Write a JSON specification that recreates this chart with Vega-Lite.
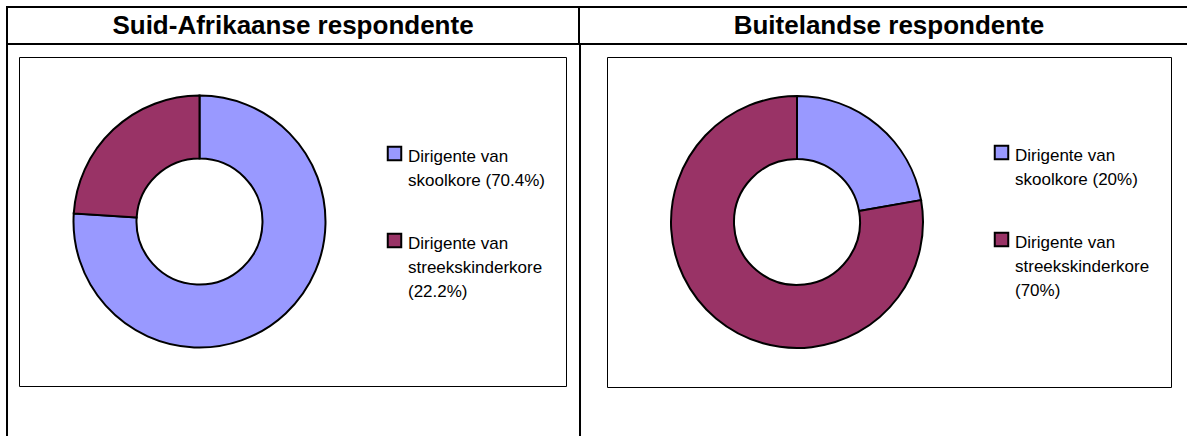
{
  "$schema": "https://vega.github.io/schema/vega-lite/v6.json",
  "padding": {"left": 6, "top": 6, "right": -13, "bottom": -9},
  "background": "white",
  "config": {"view": {"stroke": null}, "font": "Liberation Sans", "concat": {"spacing": 0}},
  "datasets": {
    "headers": [
      {"column": 1, "title": "Suid-Afrikaanse respondente"},
      {"column": 2, "title": "Buitelandse respondente"}
    ],
    "sa": [
      {"category": "Dirigente van|skoolkore (70.4%)", "percent": 70.4, "order": 1},
      {"category": "Dirigente van|streekskinderkore|(22.2%)", "percent": 22.2, "order": 2}
    ],
    "buite": [
      {"category": "Dirigente van|skoolkore (20%)", "percent": 20, "order": 1},
      {"category": "Dirigente van|streekskinderkore|(70%)", "percent": 70, "order": 2}
    ],
    "none": []
  },
  "resolve": {"scale": {"color": "independent"}, "legend": {"color": "independent"}},
  "spacing": 0,
  "bounds": "flush",
  "vconcat": [
    {
      "spacing": 0,
      "bounds": "flush",
      "hconcat": [
        {
          "width": 572, "height": 37,
          "view": {"stroke": "black", "strokeWidth": 2},
          "data": {"name": "headers"},
          "transform": [{"filter": "datum.column == 1"}],
          "mark": {"type": "text", "fontSize": 26, "fontWeight": "bold", "font": "Liberation Sans", "color": "black", "baseline": "middle", "align": "center"},
          "encoding": {"text": {"field": "title", "type": "nominal"}}
        },
        {
          "width": 620, "height": 37,
          "view": {"stroke": "black", "strokeWidth": 2},
          "data": {"name": "headers"},
          "transform": [{"filter": "datum.column == 2"}],
          "mark": {"type": "text", "fontSize": 26, "fontWeight": "bold", "font": "Liberation Sans", "color": "black", "baseline": "middle", "align": "center"},
          "encoding": {"text": {"field": "title", "type": "nominal"}}
        }
      ]
    },
    {"width": 1, "height": 37, "data": {"name": "none"}, "mark": "point"},
    {
      "spacing": 0,
      "bounds": "flush",
      "resolve": {"scale": {"color": "independent"}, "legend": {"color": "independent"}},
      "hconcat": [
        {
          "width": 0.01, "height": 400,
          "view": {"stroke": "black", "strokeWidth": 2},
          "data": {"name": "none"},
          "mark": "point"
        },
        {"width": 11, "height": 1, "data": {"name": "none"}, "mark": "point"},
        {
          "spacing": 0,
          "bounds": "flush",
          "vconcat": [
            {"width": 547, "height": 13, "data": {"name": "none"}, "mark": "point"},
            {
              "width": 547, "height": 329,
              "view": {"stroke": "black", "strokeWidth": 1},
              "data": {"name": "sa"},
              "mark": {"type": "arc", "innerRadius": 63, "outerRadius": 126, "stroke": "black", "strokeWidth": 2, "x": 180.5},
              "encoding": {
                "theta": {"field": "percent", "type": "quantitative", "stack": true},
                "order": {"field": "order", "type": "quantitative"},
                "color": {
                  "field": "category", "type": "nominal",
                  "scale": {"domain": ["Dirigente van|skoolkore (70.4%)", "Dirigente van|streekskinderkore|(22.2%)"], "range": ["#9999FF", "#993366"]},
                  "legend": {
                    "orient": "none", "legendX": 367, "legendY": 101, "title": null, "padding": 0,
                    "symbolType": "square", "symbolSize": 182, "symbolStrokeColor": "black", "symbolStrokeWidth": 2, "symbolOpacity": 1,
                    "labelFont": "Liberation Sans", "labelFontSize": 17, "labelColor": "black",
                    "labelExpr": "split(datum.label, '|')", "labelBaseline": "top", "labelOffset": 5, "labelLimit": 300,
                    "rowPadding": 40,
                    "encode": {"labels": {"update": {"lineHeight": {"value": 24}, "dy": {"value": -5}}}}
                  }
                }
              }
            }
          ]
        },
        {"width": 561, "height": 1, "data": {"name": "none"}, "mark": "point"},
        {
          "width": 0.01, "height": 400,
          "view": {"stroke": "black", "strokeWidth": 2},
          "data": {"name": "none"},
          "mark": "point"
        },
        {"width": 26, "height": 1, "data": {"name": "none"}, "mark": "point"},
        {
          "spacing": 0,
          "bounds": "flush",
          "vconcat": [
            {"width": 564, "height": 13, "data": {"name": "none"}, "mark": "point"},
            {
              "width": 564, "height": 330,
              "view": {"stroke": "black", "strokeWidth": 1},
              "data": {"name": "buite"},
              "mark": {"type": "arc", "innerRadius": 63, "outerRadius": 126, "stroke": "black", "strokeWidth": 2, "x": 190},
              "encoding": {
                "theta": {"field": "percent", "type": "quantitative", "stack": true},
                "order": {"field": "order", "type": "quantitative"},
                "color": {
                  "field": "category", "type": "nominal",
                  "scale": {"domain": ["Dirigente van|skoolkore (20%)", "Dirigente van|streekskinderkore|(70%)"], "range": ["#9999FF", "#993366"]},
                  "legend": {
                    "orient": "none", "legendX": 386, "legendY": 100, "title": null, "padding": 0,
                    "symbolType": "square", "symbolSize": 182, "symbolStrokeColor": "black", "symbolStrokeWidth": 2, "symbolOpacity": 1,
                    "labelFont": "Liberation Sans", "labelFontSize": 17, "labelColor": "black",
                    "labelExpr": "split(datum.label, '|')", "labelBaseline": "top", "labelOffset": 5, "labelLimit": 300,
                    "rowPadding": 40,
                    "encode": {"labels": {"update": {"lineHeight": {"value": 24}, "dy": {"value": -5}}}}
                  }
                }
              }
            }
          ]
        }
      ]
    }
  ]
}
